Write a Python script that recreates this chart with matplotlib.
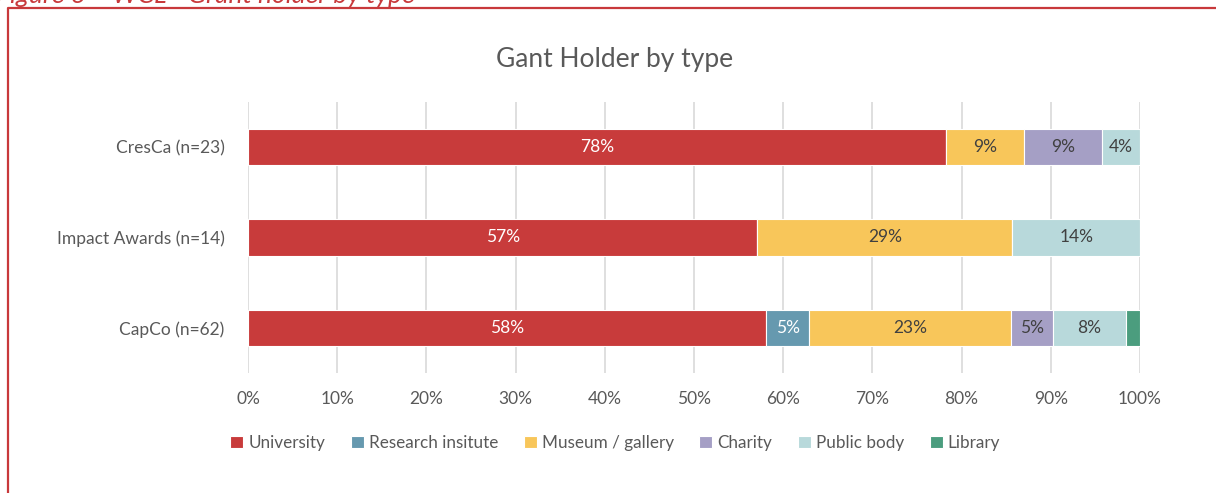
import numpy as np
import matplotlib.pyplot as plt
from matplotlib.lines import Line2D

# Grant holder share by type (percent of awards)
programmes = ['CresCa (n=23)', 'Impact Awards (n=14)', 'CapCo (n=62)']
holder_types = ['University', 'Research insitute', 'Museum / gallery', 'Charity', 'Public body', 'Library']
university = [78.3, 57.1, 58.1]
research = [0.0, 0.0, 4.8]
museum = [8.7, 28.6, 22.6]
charity = [8.7, 0.0, 4.8]
public_body = [4.3, 14.3, 8.1]
library = [0.0, 0.0, 1.6]
x_ticks = [0, 10, 20, 30, 40, 50, 60, 70, 80, 90, 100]

series = [university, research, museum, charity, public_body, library]
colors = ['#C83B3B', '#6699AF', '#F8C65A', '#A59FC5', '#B8D9DB', '#4B9D7E']
text_colors = ['white', 'white', '#404040', '#404040', '#404040', '#404040']

plt.rcParams['font.family'] = ['Lato', 'DejaVu Sans']

fig = plt.figure(figsize=(12.16, 4.93), dpi=100)
ax = fig.add_axes([248 / 1216, 1 - 373 / 493, 892 / 1216, 271 / 493])

ypos = np.arange(len(programmes))
left = np.zeros(len(programmes))
for vals, col, tcol, name in zip(series, colors, text_colors, holder_types):
    vals = np.array(vals)
    bars = ax.barh(ypos, vals, left=left, height=0.4, color=col,
                   edgecolor='white', linewidth=0.8, label=name, zorder=3)
    for b, v in zip(bars, vals):
        if v >= 3:
            ax.text(b.get_x() + b.get_width() / 2, b.get_y() + b.get_height() / 2,
                    f'{v:.0f}%', ha='center', va='center', fontsize=12.5,
                    color=tcol, zorder=4)
    left += vals

ax.set_xlim(0, 100)
ax.set_ylim(2.5, -0.5)
ax.set_xticks(x_ticks)
ax.set_xticklabels([f'{t}%' for t in x_ticks])
ax.set_yticks(ypos)
ax.set_yticklabels(programmes)
ax.tick_params(axis='both', length=0, labelsize=12.5, labelcolor='#595959')
ax.tick_params(axis='x', pad=13)
ax.tick_params(axis='y', pad=17)
ax.grid(axis='x', color='#D9D9D9', linewidth=1.2, zorder=0)
for s in ax.spines.values():
    s.set_visible(False)

fig.text(0.505, 1 - 59 / 493, 'Gant Holder by type', ha='center', va='center',
         fontsize=19, color='#595959')

leg = fig.legend(loc='center', bbox_to_anchor=(0.506, 1 - 443 / 493), ncol=6,
                 frameon=False, fontsize=12.3, handlelength=0.75, handleheight=0.75,
                 handletextpad=0.3, columnspacing=1.5)
for t in leg.get_texts():
    t.set_color('#595959')

# red report frame and clipped figure caption
fig.add_artist(Line2D([8 / 1216, 8 / 1216, 1], [0, 1 - 8 / 493, 1 - 8 / 493],
                      transform=fig.transFigure, color='#C8393B', linewidth=1.6))
fig.text(-4 / 1216, 1 - 3 / 493, 'Figure 6 \u2013 WCL - Grant holder by type',
         ha='left', va='baseline', fontsize=19, style='italic', color='#C8393B')

fig.savefig('out.png', dpi=100)
